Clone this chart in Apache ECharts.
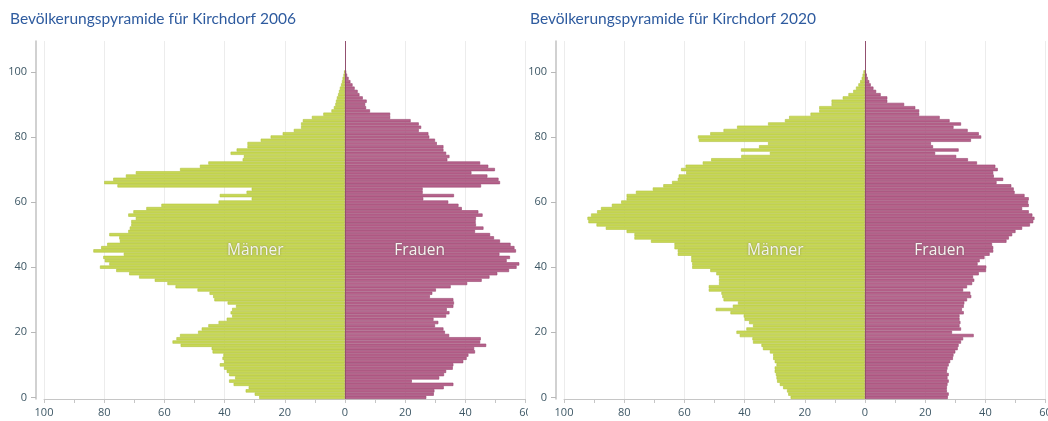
<!DOCTYPE html>
<html>
<head>
<meta charset="utf-8">
<script src="https://cdn.jsdelivr.net/npm/echarts@6/dist/echarts.min.js"></script>
<style>
  html, body { margin: 0; padding: 0; background: #ffffff; }
  .panel { position: absolute; top: 0; width: 528px; height: 421px; overflow: hidden; }
  .chart { width: 560px; height: 421px; }
</style>
</head>
<body>
<div class="panel" style="left:0"><div id="p2006" class="chart"></div></div>
<div class="panel" style="left:520px"><div id="p2020" class="chart"></div></div>
<script>
// Tick labels
const ageTicks = [0, 20, 40, 60, 80, 100];
const valueTicks = [-100, -80, -60, -40, -20, 0, 20, 40, 60];

// Persons per age year, index = age 0 .. 100
const maenner2006 = [
  28.5, 30, 33, 32, 37, 38.5, 36.5, 38.5, 39.3, 40.2,
  41.6, 40.2, 40.7, 40.4, 44, 44.3, 54.6, 57.3, 56, 54.8,
  48.8, 47.6, 45.4, 42, 39.3, 37.5, 38, 37.5, 36.2, 39,
  43.4, 43.8, 45, 49, 56.3, 59, 63.2, 68.4, 71.7, 76,
  81.4, 78.3, 79.8, 80.3, 73.5, 83.6, 81, 79, 74.8, 75,
  78.3, 72, 71.5, 71, 71, 69.5, 72, 70.3, 66, 61,
  42, 31, 41.6, 32.7, 31, 75.6, 80, 77, 72.8, 69.5,
  54.8, 48.2, 45.4, 34, 33.6, 38, 36, 32.4, 32.4, 28,
  24.7, 20.7, 17, 14.6, 14.6, 14, 11, 7.2, 4.5, 3.7,
  3.2, 3, 2.7, 2.3, 2, 1.7, 1.3, 1, 0.8, 0.5,
  0.3
];
const frauen2006 = [
  27, 29.5, 29.7, 32.8, 36, 22.2, 31.3, 32.9, 33.6, 35.8,
  36, 39.3, 40.4, 41, 43.2, 42.9, 46.9, 44.9, 45.1, 34.6,
  33.2, 32.7, 29.9, 31, 29.4, 33.6, 34.7, 33.8, 36, 36.2,
  36, 28.2, 29, 30.2, 35.1, 40.6, 45.4, 48, 50.6, 54.5,
  57, 57.9, 53.7, 54.8, 51.3, 56.8, 56.3, 55, 51.5, 49.5,
  48.2, 43.2, 46, 43.5, 43.4, 43.5, 45.7, 44.3, 38.8, 37.7,
  34.3, 26, 36.2, 25.8, 25.8, 45.2, 51.5, 51, 47.3, 42,
  49.8, 47.6, 44.9, 34, 34.7, 33.6, 32.7, 32.7, 30.5, 29.9,
  28, 27.7, 24.5, 25.3, 24.5, 21.8, 15, 15, 8.3, 7,
  6.7, 7.2, 5.9, 4.8, 4.2, 3.2, 2.5, 1.8, 1.2, 0.7,
  0.4
];
const maenner2020 = [
  24.7, 25.5, 25.9, 27.2, 28.3, 29.2, 29.4, 29.6, 30, 30,
  29.4, 30, 30.5, 30.5, 31.6, 33.9, 34.4, 37.2, 37.4, 41.6,
  42.7, 39.4, 37.2, 38.5, 40, 40.3, 44.7, 49.6, 43.9, 42.2,
  47, 47.4, 47.7, 51.9, 51.9, 48.5, 48.5, 48.5, 49.4, 51.4,
  57.4, 57.4, 57.7, 57.7, 62.2, 62.2, 63.3, 63.3, 71.1, 76.6,
  76.6, 79.2, 86.1, 89.2, 91.9, 92.2, 91, 89, 87.7, 84.1,
  81, 79.2, 79.2, 76.1, 70.5, 67, 64.1, 62.2, 61.9, 59.4,
  61.1, 59.6, 53.9, 51.1, 41.1, 31.6, 41.2, 35.2, 32.2, 55.2,
  55.5, 51.4, 47, 42.5, 32.2, 26.6, 25.2, 18.1, 15.2, 15.2,
  11.1, 11.1, 7.4, 5.5, 3.9, 3, 2.2, 1.6, 1.1, 0.8,
  0.5
];
const frauen2020 = [
  27.5, 27.8, 27.2, 27.2, 27.4, 27.8, 27.4, 27.8, 27.2, 27.4,
  27.8, 28.3, 29.2, 29.4, 30, 30.8, 31.1, 31.9, 32.6, 36.1,
  28.9, 31.9, 31.4, 31.7, 31.4, 31.4, 32.8, 32.2, 32.8, 33,
  33.9, 35.3, 35, 32.6, 33.9, 35.6, 36.3, 35.9, 37.8, 40.2,
  40.3, 37.4, 38.1, 39.7, 41.4, 42.6, 42.6, 42.2, 47, 47.8,
  48.9, 50, 52.2, 54.8, 55.9, 56.3, 55.6, 54.4, 52.2, 54.4,
  54.2, 54.4, 53, 49.7, 49.4, 48.6, 43.7, 45.9, 42.8, 42.6,
  44.1, 43.3, 37.2, 34.2, 30.3, 23.3, 31.1, 22.6, 21.9, 35.2,
  38.6, 37.8, 34.1, 29.4, 31.9, 28.1, 24.8, 18, 18, 16.7,
  13, 7.4, 7.4, 5.2, 3.7, 2.8, 1.9, 1.4, 0.9, 0.6,
  0.3
];

// Age categories on the vertical axis (room above the oldest age group)
const ages = [];
for (let a = 0; a < 110; a++) ages.push(String(a));

const FONT = 'Open Sans';
const LABEL_COLOR = '#3d5765';
const showAge = (idx) => ageTicks.indexOf(idx) !== -1;

function buildOption(title, men, women) {
  return {
    animation: false,
    title: {
      text: title,
      left: 5,
      top: 6,
      textStyle: { fontFamily: 'Lato', fontSize: 15.5, fontWeight: 'normal', color: '#2e5b9f' }
    },
    grid: { left: 44, top: 41, width: 481.6, height: 358 },
    xAxis: {
      type: 'value',
      min: valueTicks[0],
      max: valueTicks[valueTicks.length - 1],
      interval: 20,
      axisLine: { show: true, onZero: false, lineStyle: { color: '#c6c6c6', width: 1 } },
      axisTick: { show: true, length: 4, lineStyle: { color: '#c6c6c6' } },
      minorTick: { show: true, splitNumber: 2, length: 4, lineStyle: { color: '#c6c6c6' } },
      axisLabel: {
        formatter: (v) => String(Math.abs(v)),
        color: LABEL_COLOR, fontFamily: FONT, fontSize: 11, margin: 8.5
      },
      splitLine: { show: true, lineStyle: { color: '#ececec', width: 1 } }
    },
    yAxis: {
      type: 'category',
      data: ages,
      offset: 8,
      axisLine: { show: true, onZero: false, lineStyle: { color: '#c2c2c2', width: 1.5 } },
      axisTick: { show: true, alignWithLabel: true, length: 5, interval: (i) => showAge(i), lineStyle: { color: '#b8b8b8' } },
      axisLabel: {
        interval: (i) => showAge(i),
        color: LABEL_COLOR, fontFamily: FONT, fontSize: 11, margin: 9
      },
      splitLine: { show: false }
    },
    series: [
      {
        name: 'Männer',
        type: 'bar',
        data: men.map((v) => -v),
        barGap: '-100%',
        barCategoryGap: 0,
        itemStyle: { color: '#c7d754', borderColor: '#b1c23f', borderWidth: 0.6 }
      },
      {
        name: 'Frauen',
        type: 'bar',
        data: women,
        barGap: '-100%',
        barCategoryGap: 0,
        itemStyle: { color: '#b6628b', borderColor: '#984670', borderWidth: 0.6 },
        markLine: {
          silent: true,
          symbol: 'none',
          label: { show: false },
          lineStyle: { color: '#93506f', width: 1, type: 'solid' },
          data: [{ xAxis: 0 }]
        }
      }
    ]
  };
}

function addSexLabels(chart) {
  const place = (text, value) => {
    const p = chart.convertToPixel({ gridIndex: 0 }, [value, 45.4]);
    return {
      type: 'text',
      x: p[0],
      y: p[1],
      style: {
        text: text,
        fill: '#f4f4f1',
        font: '15.5px "Open Sans"',
        align: 'center',
        verticalAlign: 'middle',
        textShadowColor: 'rgba(60,60,40,0.45)',
        textShadowBlur: 2
      },
      z: 10
    };
  };
  chart.setOption({ graphic: [place('Männer', -29.8), place('Frauen', 24.8)] });
}

const c1 = echarts.init(document.getElementById('p2006'), null, { renderer: 'canvas' });
c1.setOption(buildOption('Bevölkerungspyramide für Kirchdorf 2006', maenner2006, frauen2006));
addSexLabels(c1);

const c2 = echarts.init(document.getElementById('p2020'), null, { renderer: 'canvas' });
c2.setOption(buildOption('Bevölkerungspyramide für Kirchdorf 2020', maenner2020, frauen2020));
addSexLabels(c2);
</script>
</body>
</html>
